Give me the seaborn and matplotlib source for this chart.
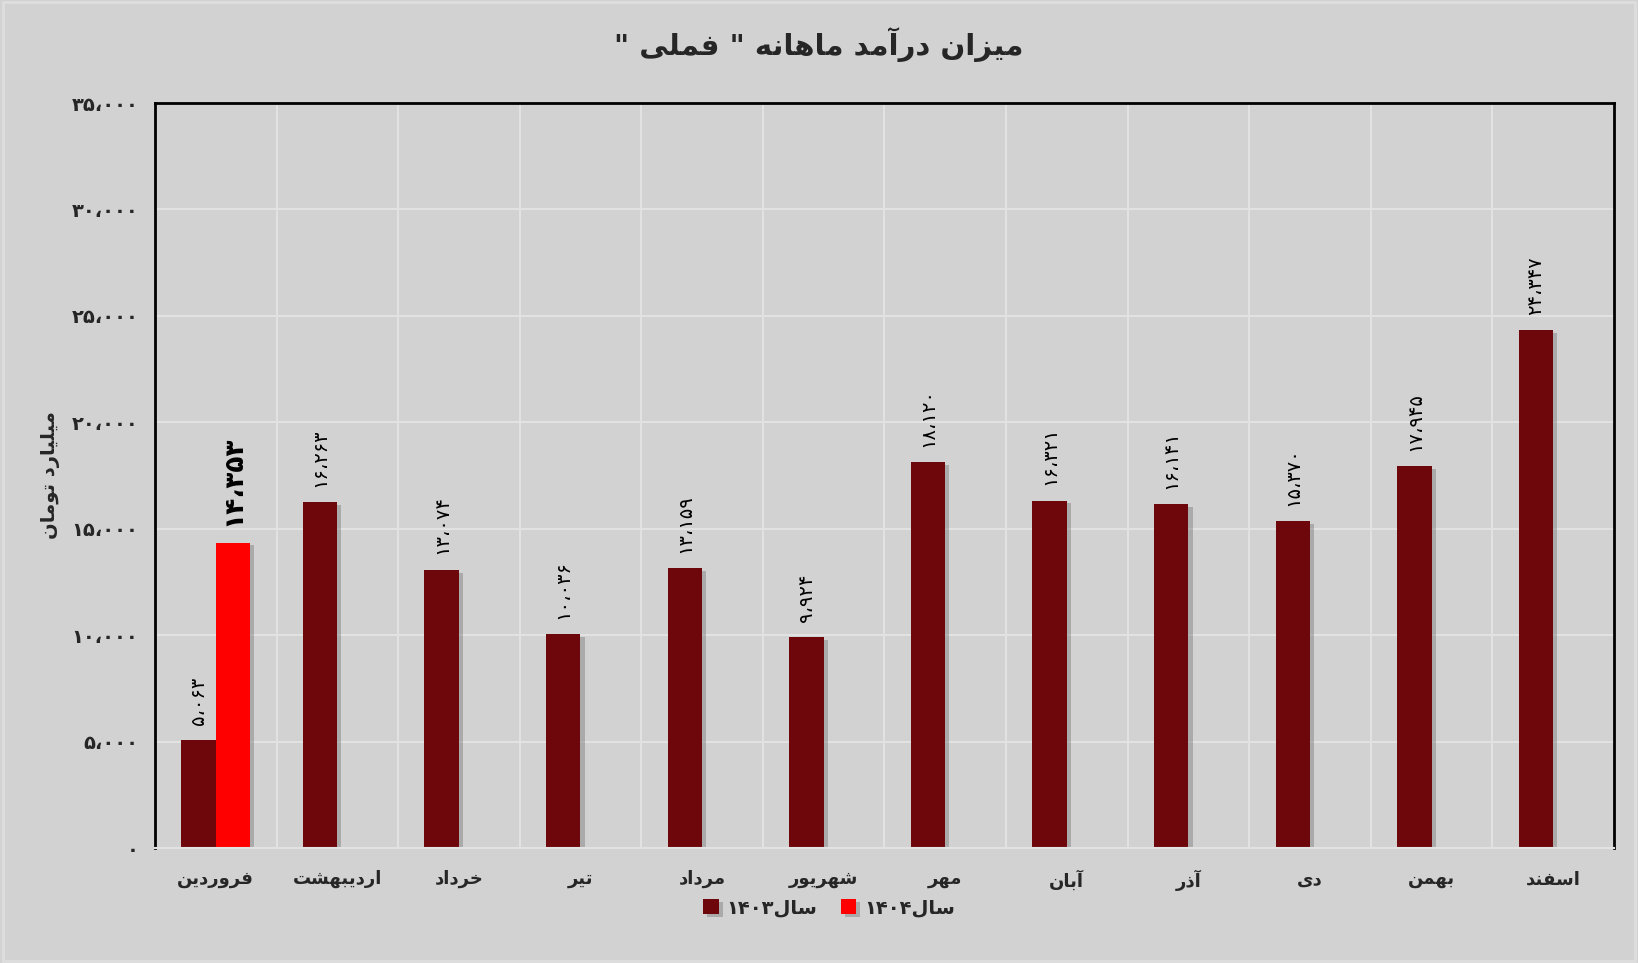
import pandas as pd
import numpy as np
import matplotlib
matplotlib.use('Agg')
import matplotlib.pyplot as plt
import matplotlib.patheffects as pe
from matplotlib.ticker import FixedLocator, FuncFormatter
import seaborn as sns

# chart data
months = ['فروردین', 'اردیبهشت', 'خرداد', 'تیر', 'مرداد', 'شهریور',
          'مهر', 'آبان', 'آذر', 'دی', 'بهمن', 'اسفند']
income_1403 = [5063, 16263, 13074, 10036, 13159, 9924,
               18120, 16321, 16141, 15370, 17945, 24347]
income_1404 = [14353]
series_names = ['سال۱۴۰۳', 'سال۱۴۰۴']
title_text = 'میزان درآمد ماهانه " فملی "'
ylabel_text = 'میلیارد تومان'
y_ticks = [0, 5000, 10000, 15000, 20000, 25000, 30000, 35000]

# simple arabic shaping (matplotlib has no shaping / bidi)
FORMS = {
    'ا': ('\uFE8D', '\uFE8E', None, None),
    'آ': ('\uFE81', '\uFE82', None, None),
    'ب': ('\uFE8F', '\uFE90', '\uFE91', '\uFE92'),
    'ت': ('\uFE95', '\uFE96', '\uFE97', '\uFE98'),
    'خ': ('\uFEA5', '\uFEA6', '\uFEA7', '\uFEA8'),
    'د': ('\uFEA9', '\uFEAA', None, None),
    'ذ': ('\uFEAB', '\uFEAC', None, None),
    'ر': ('\uFEAD', '\uFEAE', None, None),
    'ز': ('\uFEAF', '\uFEB0', None, None),
    'س': ('\uFEB1', '\uFEB2', '\uFEB3', '\uFEB4'),
    'ش': ('\uFEB5', '\uFEB6', '\uFEB7', '\uFEB8'),
    'ف': ('\uFED1', '\uFED2', '\uFED3', '\uFED4'),
    'ل': ('\uFEDD', '\uFEDE', '\uFEDF', '\uFEE0'),
    'م': ('\uFEE1', '\uFEE2', '\uFEE3', '\uFEE4'),
    'ن': ('\uFEE5', '\uFEE6', '\uFEE7', '\uFEE8'),
    'ه': ('\uFEE9', '\uFEEA', '\uFEEB', '\uFEEC'),
    'و': ('\uFEED', '\uFEEE', None, None),
    'ی': ('\uFEEF', '\uFEF0', '\uFEF3', '\uFEF4'),
}
DIGITS = set('۰۱۲۳۴۵۶۷۸۹0123456789،')


def shape(s):
    out = []
    for i, ch in enumerate(s):
        if ch not in FORMS:
            out.append(ch)
            continue
        prev = s[i - 1] if i > 0 else None
        nxt = s[i + 1] if i + 1 < len(s) else None
        jp = prev in FORMS and FORMS[prev][2] is not None
        jn = nxt in FORMS and FORMS[ch][2] is not None
        iso, fin, ini, med = FORMS[ch]
        if jp and jn:
            out.append(med)
        elif jp:
            out.append(fin)
        elif jn:
            out.append(ini)
        else:
            out.append(iso)
    return ''.join(out)


def rtl(s):
    s = shape(s)
    runs = []
    for ch in s:
        kind = ch in DIGITS
        if runs and runs[-1][0] == kind:
            runs[-1][1] += ch
        else:
            runs.append([kind, ch])
    return ''.join(r if k else r[::-1] for k, r in reversed(runs))


def fa_num(v):
    s = f'{int(v):,}'.replace(',', '،')
    return s.translate(str.maketrans('0123456789', '۰۱۲۳۴۵۶۷۸۹'))


# build long table
df = pd.DataFrame({'month': months + months[:len(income_1404)],
                   'year': [series_names[0]] * len(months) + [series_names[1]] * len(income_1404),
                   'value': income_1403 + income_1404})

bg = '#d2d2d2'
dark_red = '#6e070b'
red = '#ff0000'

sns.set_style('whitegrid')
plt.rcParams['font.family'] = ['DejaVu Sans']

fig = plt.figure(figsize=(16.38, 9.63), dpi=100, facecolor=bg)
ax = fig.add_axes([0.0946, 0.1194, 0.8907, 0.7736])
ax.set_facecolor(bg)

sns.barplot(data=df, x='month', y='value', hue='year', order=months,
            hue_order=series_names, palette=[dark_red, red], width=0.567,
            dodge=True, saturation=1, errorbar=None, ax=ax, legend=True,
            linewidth=0)

shadow = [pe.SimplePatchShadow(offset=(3, -2), shadow_rgbFace='#7a7a7a', alpha=0.45), pe.Normal()]
for p in ax.patches:
    p.set_path_effects(shadow)

# value labels
for bar, val in zip(ax.containers[0], income_1403):
    ax.annotate(fa_num(val), (bar.get_x() + bar.get_width() / 2, bar.get_height()),
                xytext=(0, 11), textcoords='offset points', rotation=90,
                ha='center', va='bottom', fontsize=14, color='black')
for bar, val in zip(ax.containers[1], income_1404):
    ax.annotate(fa_num(val), (bar.get_x() + bar.get_width() / 2, bar.get_height()),
                xytext=(0, 12), textcoords='offset points', rotation=90,
                ha='center', va='bottom', fontsize=19, fontweight='bold', color='black')

ax.set_ylim(0, 35000)
ax.set_xlim(-0.5, len(months) - 0.5)
ax.yaxis.set_major_locator(FixedLocator(y_ticks))
ax.yaxis.set_major_formatter(FuncFormatter(lambda v, _: fa_num(v)))
ax.set_xticks(range(len(months)))
ax.set_xticklabels([rtl(m) for m in months], fontsize=13, fontweight='bold')
ax.xaxis.set_minor_locator(FixedLocator(np.arange(-0.5, len(months), 1)))
ax.tick_params(axis='x', which='both', length=0, pad=16)
ax.tick_params(axis='y', length=0, pad=12, labelsize=14)
for lab in ax.get_yticklabels():
    lab.set_fontweight('bold')

ax.grid(False)
ax.grid(True, axis='y', which='major', color='#e2e2e2', linewidth=1.5)
ax.grid(True, axis='x', which='minor', color='#e2e2e2', linewidth=1.5)
ax.set_axisbelow(True)

for side in ['left', 'top', 'right']:
    ax.spines[side].set_color('black')
    ax.spines[side].set_linewidth(2)
ax.spines['bottom'].set_color('#e2e2e2')
ax.spines['bottom'].set_linewidth(1.5)

ax.set_xlabel('')
ax.set_ylabel(rtl(ylabel_text), fontsize=14, fontweight='bold', labelpad=8)

fig.suptitle(rtl(title_text), x=0.5, y=0.972, fontsize=21, fontweight='bold')

handles, labels = ax.get_legend_handles_labels()
ax.legend(handles, [rtl(l) for l in labels], loc='center', bbox_to_anchor=(0.462, -0.08),
          ncol=2, frameon=False, prop={'size': 14, 'weight': 'bold'},
          handlelength=0.8, handleheight=0.8, handletextpad=0.4, columnspacing=1.2)

# thin lighter frame around the chart area
fig.patches.append(plt.Rectangle((0.002, 0.002), 0.996, 0.996, transform=fig.transFigure,
                                 fill=False, edgecolor='#dedede', linewidth=2))

fig.savefig('out.png', dpi=100, facecolor=bg)
